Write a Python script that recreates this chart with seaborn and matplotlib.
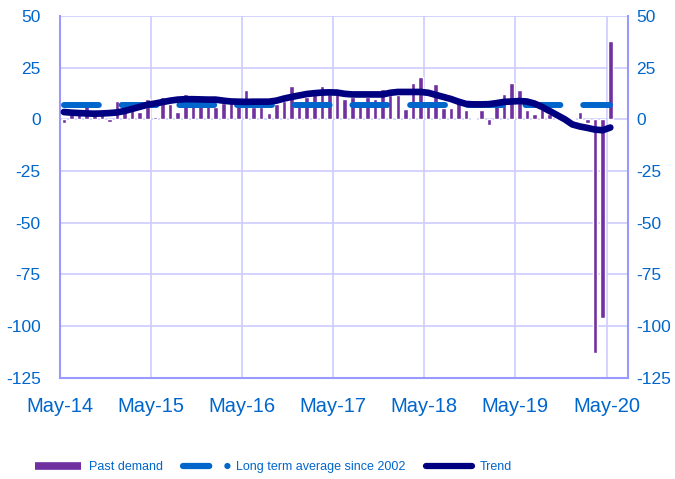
import matplotlib
matplotlib.use("Agg")
import matplotlib.pyplot as plt
import seaborn as sns
import pandas as pd
from matplotlib.lines import Line2D


# ---------------------------------
# DATA (monthly, May-14 .. May-20)
# ---------------------------------

past_demand = [
    -2, 2.5, 5, 9, 4, 3.5, -1.5, 9, 4.5, 4.5, 3.5, 10, 1,
    11, 7.5, 3.5, 12, 7.5, 8, 7.5, 6, 8, 8, 7, 14.3, 6,
    6, 3, 7.5, 9, 16, 8.5, 11, 12.5, 16, 12, 12, 9.7, 11,
    9, 11, 9.7, 14.8, 11.6, 11.5, 5, 17.5, 20.5, 8, 17, 5.5, 5.5,
    9.7, 4.3, 0.8, 4.3, -2.6, 6.8, 12.4, 17.7, 14, 4.3, 2.7, 4.8, 2.7,
    0.8, 1.4, 0.5, 3.5, -2, -113, -96, 38,
]

trend = [
    3.5, 3.2, 3.0, 2.8, 2.7, 2.8, 3.0, 3.3, 4.0, 5.0, 6.0, 7.0, 7.6,
    8.3, 9.0, 9.5, 9.7, 9.7, 9.6, 9.5, 9.5, 9.0, 8.6, 8.5, 8.4, 8.5,
    8.5, 8.5, 9.0, 10.0, 10.8, 11.5, 12.2, 12.6, 12.9, 13.0, 12.9, 12.3, 12.0,
    12.0, 12.0, 12.0, 12.0, 12.8, 13.2, 13.2, 13.2, 13.2, 12.8, 11.8, 10.8, 9.8,
    8.5, 7.4, 7.2, 7.2, 7.3, 7.8, 8.4, 8.6, 8.8, 8.6, 7.6, 6.0, 4.0,
    2.0, 0.0, -2.5, -3.5, -4.2, -5.0, -5.3, -4.0,
]

long_term_avg = 7.0

year_labels = ["May-14", "May-15", "May-16", "May-17", "May-18", "May-19", "May-20"]
y_ticks = [50, 25, 0, -25, -50, -75, -100, -125]


# ---------------------------------
# STYLE
# ---------------------------------

BAR_COLOR = "#7030A0"
AVG_COLOR = "#0066CC"
TREND_COLOR = "#000080"
GRID_COLOR = "#CCCCFF"
SPINE_COLOR = "#9999FF"
TEXT_COLOR = "#0066CC"


def draw_chart():

    sns.set_style("white")
    plt.rcParams["font.family"] = ["Liberation Sans", "DejaVu Sans"]

    months = list(range(len(past_demand)))
    df = pd.DataFrame({"month": months, "demand": past_demand, "trend": trend})
    df["avg"] = long_term_avg

    fig = plt.figure(figsize=(6.75, 4.79), dpi=100)
    ax = fig.add_axes([0.089, 0.211, 0.841, 0.756])

    # bars
    sns.barplot(data=df, x="month", y="demand", native_scale=True,
                color=BAR_COLOR, width=0.6, saturation=1, ax=ax, zorder=3)

    # long term average
    sns.lineplot(data=df, x="month", y="avg", color=AVG_COLOR, lw=4.3,
                 linestyle=(0, (5.83, 3.83)), dash_capstyle="round",
                 ax=ax, zorder=4)

    # trend
    sns.lineplot(data=df, x="month", y="trend", color=TREND_COLOR, lw=4.8,
                 solid_capstyle="round", ax=ax, zorder=5)

    ax.set_xlim(-0.5, 74.3)
    ax.set_ylim(-125, 50)

    year_pos = [12 * k - 0.5 for k in range(len(year_labels))]
    ax.set_xticks(year_pos)
    ax.set_xticklabels(year_labels, fontsize=14.5, color=TEXT_COLOR)
    ax.set_yticks(y_ticks)
    ax.set_yticklabels([str(v) for v in y_ticks], fontsize=12.5, color=TEXT_COLOR)
    ax.tick_params(axis="x", length=0, pad=14)
    ax.tick_params(axis="y", length=0, pad=14)
    ax.set_xlabel("")
    ax.set_ylabel("")

    ax.grid(True, color=GRID_COLOR, lw=1.2, zorder=0)
    ax.set_axisbelow(True)

    for side in ["left", "bottom", "right"]:
        ax.spines[side].set_color(SPINE_COLOR)
        ax.spines[side].set_linewidth(1.5)
    ax.spines["top"].set_visible(False)

    # right axis
    ax2 = ax.twinx()
    ax2.set_ylim(-125, 50)
    ax2.set_yticks(y_ticks)
    ax2.set_yticklabels([str(v) for v in y_ticks], fontsize=12.5, color=TEXT_COLOR)
    ax2.tick_params(axis="y", length=0, pad=6)
    for side in ax2.spines:
        ax2.spines[side].set_visible(False)

    # legend
    handles = [
        Line2D([0], [0], color=BAR_COLOR, lw=5.5, solid_capstyle="butt"),
        Line2D([0], [0], color=AVG_COLOR, lw=4.5, linestyle=(0, (4.2, 2.9, 0.01, 5)),
               dash_capstyle="round"),
        Line2D([0], [0], color=TREND_COLOR, lw=4.5, solid_capstyle="round"),
    ]
    labels = ["Past demand", "Long term average since 2002", "Trend"]
    fig.legend(handles, labels, loc="lower center", bbox_to_anchor=(0.405, -0.012),
               ncol=3, frameon=False, handlelength=3.7, handletextpad=0.6,
               columnspacing=1.6,
               prop={"family": ["Liberation Sans Narrow", "Liberation Sans"], "size": 9.0},
               labelcolor=TEXT_COLOR)

    fig.savefig("out.png", dpi=100)


def main():
    draw_chart()


if __name__ == "__main__":
    main()
